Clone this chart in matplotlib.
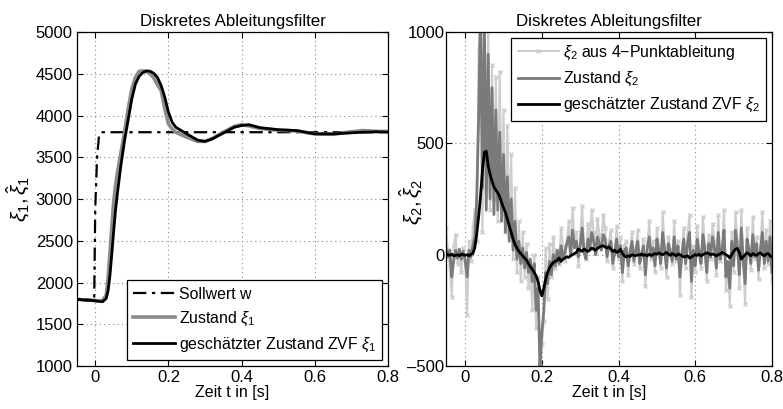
import numpy as np
import matplotlib
matplotlib.use("Agg")
import matplotlib.pyplot as plt

plt.rcParams['font.family'] = ['Liberation Sans', 'DejaVu Sans']
plt.rcParams['mathtext.fontset'] = 'custom'
plt.rcParams['mathtext.rm'] = 'Liberation Sans'
plt.rcParams['mathtext.it'] = 'Liberation Sans:italic'

# ---------------- left plot data ----------------
t_w = [-0.05, -0.003, 0.0, 0.005, 0.01, 0.015, 0.8]
sollwert_w = [1800, 1800, 2900, 3500, 3750, 3800, 3800]

t_x1 = [-0.05, -0.03, -0.01, 0.0, 0.01, 0.02, 0.03, 0.035, 0.04, 0.045, 0.05, 0.055, 0.06, 0.07,
        0.08, 0.09, 0.10, 0.11, 0.12, 0.13, 0.14, 0.15, 0.16, 0.17, 0.18, 0.19, 0.20, 0.21,
        0.22, 0.25, 0.28, 0.30, 0.32, 0.35, 0.38, 0.40, 0.42, 0.45, 0.50, 0.55, 0.60, 0.65,
        0.69, 0.73, 0.77, 0.80]
zustand_x1 = [1800, 1790, 1790, 1785, 1780, 1785, 1850, 2050, 2350, 2650, 2950, 3150, 3300, 3550,
              3800, 4080, 4320, 4460, 4530, 4535, 4525, 4500, 4450, 4370, 4300, 4080, 3900, 3840,
              3800, 3740, 3690, 3690, 3725, 3800, 3870, 3890, 3875, 3845, 3825, 3815, 3780, 3775,
              3800, 3820, 3810, 3810]
zvf_x1 = [1800, 1790, 1785, 1780, 1775, 1770, 1810, 1900, 2080, 2330, 2600, 2850, 3050, 3400,
          3700, 3950, 4200, 4380, 4470, 4515, 4535, 4530, 4505, 4455, 4360, 4220, 4040, 3920,
          3860, 3780, 3705, 3690, 3720, 3790, 3860, 3880, 3890, 3855, 3830, 3820, 3780, 3780,
          3790, 3800, 3805, 3800]

# ---------------- right plot data (5 ms grid from -0.05 s) ----------------
vier_punkt_x2 = [
    120, 20, -60, -190, 40, 90, -40, 10, -80, 30,
    -20, -270, 60, -30, 120, 200, 60, 920, 1100, 100,
    1100, 300, 1050, 200, 850, 250, 800, 150, 820, 250,
    650, 100, 580, 80, 450, -20, 300, -80, 150, -120,
    100, -100, 50, -150, -60, -250, 0, -330, -100, -500,
    -400, -300, 30, -200, 50, -100, 80, -60, 20, -40,
    120, 40, -30, 60, 150, 20, 210, 60, 100, -50,
    80, 220, 30, -20, 140, 60, 200, 100, 10, 160,
    90, 40, 180, 120, -30, 60, 110, -60, 20, 130,
    -20, 80, -120, 40, 60, -90, 20, 100, -40, 30,
    110, -60, 10, 70, -140, 50, 150, -20, 60, -80,
    120, 30, -60, 190, 40, -100, 80, 20, -40, 150,
    -30, 60, -180, 10, 120, -60, 90, 180, -190, 40,
    -80, 130, 20, -60, 170, 40, -120, 90, -20, 140,
    60, -90, 180, -30, 40, 200, -160, -40, -230, 100,
    -80, 190, 60, -150, 200, -40, -220, 120, 30, -70,
    170, -20, 80, -110, 40, 190, -60, 110, -40, 150,
    -120]
zustand_x2 = [
    30, -10, 20, -100, -30, 20, -15, 25, -20, 15,
    -25, -100, 20, -10, 40, 80, 250, 600, 1100, 300,
    1050, 200, 900, 250, 750, 180, 650, 200, 550, 150,
    450, 100, 350, 60, 250, 20, 150, -20, 60, -40,
    30, -60, 10, -80, -20, -120, -40, -250, -150, -500,
    -350, -250, -80, -130, -30, -90, 0, -50, 20, -40,
    40, -20, 10, 50, 80, 0, 110, 30, 60, -10,
    40, 120, 10, -20, 70, 30, 100, 60, 0, 80,
    50, 20, 90, 70, -10, 40, 60, -40, 10, 70,
    -10, 40, -80, 20, 30, -50, 10, 60, -30, 20,
    60, -40, 0, 40, -90, 30, 80, -10, 30, -50,
    70, 20, -40, 100, 20, -60, 50, 10, -30, 80,
    -20, 40, -100, 0, 70, -40, 50, 100, -120, 20,
    -50, 70, 10, -40, 90, 20, -80, 50, -10, 80,
    30, -60, 100, -20, 20, 110, -100, -30, -150, 60,
    -50, 110, 30, -90, 120, -20, -130, 70, 20, -40,
    90, -10, 50, -70, 20, 100, -40, 60, -30, 80,
    -80]
zvf_x2 = [
    5, 0, -3, 2, -5, -3, 0, -5, 2, 0,
    -3, 0, -5, 2, 5, 30, 90, 170, 260, 380,
    460, 465, 400, 360, 330, 305, 290, 278, 260, 235,
    210, 190, 160, 130, 100, 70, 45, 30, 15, 5,
    -5, -15, -25, -40, -55, -65, -80, -95, -120, -160,
    -185, -150, -110, -80, -60, -45, -35, -30, -25, -15,
    -30, -20, -15, -10, -12, -5, 0, 5, 10, 25,
    20, 15, 25, 20, 15, 20, 30, 25, 20, 28,
    35, 38, 40, 35, 30, 35, 25, 15, 20, 10,
    15, 25, 5, -5, -10, -5, -8, 0, -3, -5,
    0, -2, 3, -3, 0, -5, 2, -3, 0, 5,
    2, 8, 3, 0, 5, 10, 2, -3, 5, 0,
    -5, 3, 0, -5, -10, -8, -5, -15, -10, -5,
    0, -3, 2, -5, 0, 5, 8, 5, 0, 3,
    0, -5, 0, 3, 10, 5, 0, -5, -15, 0,
    15, 25, 28, 10, -20, -10, 0, 8, 3, -5,
    5, 0, -3, 5, 8, 0, -5, 3, 5, -5,
    -10]
t_x2 = np.round(-0.05 + 0.005 * np.arange(len(zvf_x2)), 4)

x_ticks = [0, 0.2, 0.4, 0.6, 0.8]
x_ticklabels = ['0', '0.2', '0.4', '0.6', '0.8']
y1_ticks = [1000, 1500, 2000, 2500, 3000, 3500, 4000, 4500, 5000]
y2_ticks = [-500, 0, 500, 1000]

fig = plt.figure(figsize=(7.83, 4.09), dpi=100)
ax1 = fig.add_axes([0.0983, 0.1051, 0.3972, 0.8166])
ax2 = fig.add_axes([0.5696, 0.1051, 0.4163, 0.8166])

def style(ax):
    ax.set_xlim(-0.05, 0.8)
    ax.set_xticks(x_ticks)
    ax.set_xticklabels(x_ticklabels)
    ax.tick_params(direction='in', top=True, right=True, labelsize=12, length=4, width=0.8, pad=3)
    ax.grid(True, linestyle=(0, (1, 3)), color='#888888', linewidth=0.8)
    ax.set_axisbelow(True)
    for s in ax.spines.values():
        s.set_linewidth(0.9)
    ax.set_title('Diskretes Ableitungsfilter', fontsize=12.2, pad=4)
    ax.set_xlabel('Zeit t in [s]', fontsize=11.5, labelpad=0)

legend_kw = dict(fontsize=11.4, fancybox=False, framealpha=1, edgecolor='black',
                 handlelength=2.6, labelspacing=0.5, borderaxespad=0.35, handletextpad=0.25,
                 borderpad=0.4)

# left
ax1.plot(t_w, sollwert_w, color='black', linestyle=(0, (6, 2.5, 1.5, 2.5)), linewidth=1.6,
         label='Sollwert w')
ax1.plot(t_x1, zustand_x1, color='#8c8c8c', linewidth=2.6, label=r'Zustand $\xi_1$')
ax1.plot(t_x1, zvf_x1, color='black', linewidth=2.0, label=r'geschätzter Zustand ZVF $\xi_1$')
style(ax1)
ax1.set_ylim(1000, 5000)
ax1.set_yticks(y1_ticks)
ax1.set_ylabel(r'$\xi_1, \hat{\xi}_1$', fontsize=15)
ax1.yaxis.set_label_coords(-0.145, 0.5)
leg1 = ax1.legend(loc='lower right', **legend_kw)
leg1.get_frame().set_linewidth(0.9)

# right
ax2.plot(t_x2, vier_punkt_x2, color='#cdcdcd', linewidth=1.5, marker='x', markersize=3.5,
         markeredgewidth=1.0, label=r'$\xi_2$ aus 4$-$Punktableitung')
ax2.plot(t_x2, zustand_x2, color='#7a7a7a', linewidth=2.0, label=r'Zustand $\xi_2$')
ax2.plot(t_x2, zvf_x2, color='black', linewidth=2.0, label=r'geschätzter Zustand ZVF $\xi_2$')
style(ax2)
ax2.set_ylim(-500, 1000)
ax2.set_yticks(y2_ticks)
ax2.set_yticklabels(['\u2013500', '0', '500', '1000'])
ax2.tick_params(axis='y', pad=1)
ax2.set_ylabel(r'$\xi_2, \hat{\xi}_2$', fontsize=15)
ax2.yaxis.set_label_coords(-0.064, 0.49)
leg2 = ax2.legend(loc='upper right', **legend_kw)
leg2.get_frame().set_linewidth(0.9)

fig.savefig('out.png', dpi=100)
